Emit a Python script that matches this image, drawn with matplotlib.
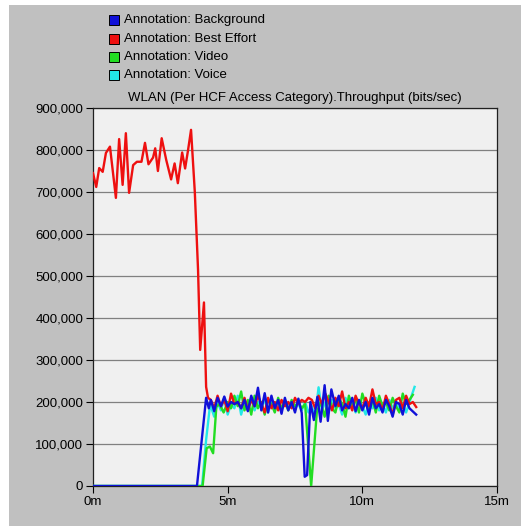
import matplotlib
matplotlib.use("Agg")
import matplotlib.pyplot as plt
from matplotlib.patches import Rectangle
from matplotlib.ticker import FuncFormatter

plt.rcParams['font.family'] = ['Liberation Sans', 'DejaVu Sans']

title = "WLAN (Per HCF Access Category).Throughput (bits/sec)"
series_names = ["Annotation: Background", "Annotation: Best Effort",
                "Annotation: Video", "Annotation: Voice"]
series_colors = ["#1010d8", "#ee1010", "#22dd22", "#22e8e8"]

x_ticks = [0, 5, 10, 15]
x_tick_labels = ["0m", "5m", "10m", "15m"]
y_ticks = [0, 100000, 200000, 300000, 400000, 500000, 600000, 700000, 800000, 900000]

# time in minutes, values in bits/sec (thousands)
red_t = [0.00, 0.12, 0.23, 0.36, 0.48, 0.63, 0.85, 0.97, 1.10, 1.22, 1.34, 1.49, 1.63, 1.80,
         1.93, 2.06, 2.23, 2.31, 2.41, 2.55, 2.72, 2.90, 3.03, 3.15, 3.31, 3.42, 3.53, 3.64,
         3.78, 3.90, 3.98, 4.12, 4.20, 4.27,
         4.375, 4.5, 4.625, 4.75, 4.875, 5.0, 5.125, 5.25, 5.375, 5.5, 5.625, 5.75, 5.875,
         6.0, 6.125, 6.25, 6.375, 6.5, 6.625, 6.75, 6.875, 7.0, 7.125, 7.25, 7.375, 7.5,
         7.625, 7.75, 7.875, 8.0, 8.125, 8.25, 8.375, 8.5, 8.625, 8.75, 8.875, 9.0, 9.125,
         9.25, 9.375, 9.5, 9.625, 9.75, 9.875, 10.0, 10.125, 10.25, 10.375, 10.5, 10.625,
         10.75, 10.875, 11.0, 11.125, 11.25, 11.375, 11.5, 11.625, 11.75, 11.875, 12.0]
red_v = [745, 712, 757, 748, 793, 808, 686, 826, 717, 840, 698, 764, 772, 772,
         817, 766, 782, 804, 750, 828, 776, 730, 768, 721, 794, 756, 800, 848,
         700, 515, 324, 437, 236, 210,
         205, 185, 215, 190, 205, 178, 220, 195, 200, 185, 210, 180, 205,
         190, 215, 195, 175, 210, 185, 200, 180, 205, 190, 200, 185, 210,
         195, 205, 200, 210, 205, 185, 215, 195, 220, 200, 180, 210, 190,
         225, 185, 200, 180, 215, 195, 185, 210, 190, 230, 195, 200,
         180, 215, 195, 170, 205, 210, 185, 215, 195, 200, 188]

blue_t = [0.0, 3.86, 4.2, 4.3, 4.375, 4.5, 4.625, 4.75, 4.875, 5.0, 5.125, 5.25, 5.375, 5.5,
          5.625, 5.75, 5.875, 6.0, 6.125, 6.25, 6.375, 6.5, 6.625, 6.75, 6.875, 7.0, 7.125,
          7.25, 7.375, 7.5, 7.625, 7.75, 7.86, 7.95, 8.07, 8.2, 8.33, 8.45, 8.6, 8.72, 8.85,
          9.0, 9.125, 9.25, 9.375, 9.5, 9.625, 9.75, 9.875, 10.0, 10.125, 10.25, 10.375,
          10.5, 10.625, 10.75, 10.875, 11.0, 11.125, 11.25, 11.375, 11.5, 11.625, 11.75, 12.0]
blue_v = [0, 0, 210, 185, 205, 178, 210, 190, 213, 189, 200, 195, 200, 185, 205,
          178, 215, 190, 234, 180, 221, 175, 215, 185, 205, 172, 210, 180, 200, 175,
          208, 174, 22, 26, 200, 157, 212, 153, 240, 155, 230, 190, 215, 180, 195,
          185, 210, 178, 205, 180, 200, 170, 210, 185, 195, 175, 205, 190, 165, 200,
          195, 170, 205, 185, 170]

green_t = [0.0, 4.07, 4.22, 4.34, 4.46, 4.58, 4.7, 4.85, 5.0, 5.125, 5.25, 5.375, 5.5,
           5.625, 5.75, 5.875, 6.0, 6.125, 6.25, 6.375, 6.5, 6.625, 6.75, 6.875, 7.0,
           7.125, 7.25, 7.375, 7.5, 7.625, 7.75, 7.875, 8.1, 8.31, 8.45, 8.6, 8.75,
           8.875, 9.0, 9.125, 9.25, 9.375, 9.5, 9.625, 9.75, 9.875, 10.0, 10.125, 10.25,
           10.375, 10.5, 10.625, 10.75, 10.875, 11.0, 11.125, 11.25, 11.375, 11.5,
           11.625, 11.75, 11.875]
green_v = [0, 0, 90, 94, 78, 189, 195, 175, 200, 185, 215, 190, 225, 180, 205, 170,
           215, 185, 200, 170, 205, 195, 175, 210, 185, 200, 180, 205, 190, 200, 185,
           195, 0, 175, 200, 165, 215, 185, 175, 210, 195, 165, 215, 190, 205, 175,
           220, 195, 180, 205, 175, 215, 190, 200, 180, 210, 190, 175, 220, 195, 205, 217]

cyan_t = [0.0, 4.05, 4.2, 4.35, 4.5, 4.62, 4.75, 4.875, 5.0, 5.125, 5.25, 5.375, 5.5,
          5.625, 5.75, 5.875, 6.0, 6.125, 6.25, 6.375, 6.5, 6.625, 6.75, 6.875, 7.0,
          7.125, 7.25, 7.375, 7.5, 7.625, 7.75, 7.875, 8.0, 8.125, 8.25, 8.375, 8.5,
          8.625, 8.75, 8.875, 9.0, 9.125, 9.25, 9.375, 9.5, 9.625, 9.75, 9.875, 10.0,
          10.125, 10.25, 10.375, 10.5, 10.625, 10.75, 10.875, 11.0, 11.125, 11.25,
          11.375, 11.5, 11.625, 11.75, 11.94]
cyan_v = [0, 0, 110, 195, 165, 200, 180, 210, 170, 195, 185, 215, 170, 200, 190, 210,
          180, 200, 190, 205, 175, 200, 185, 195, 180, 205, 190, 200, 185, 195, 180,
          200, 175, 190, 165, 235, 180, 200, 175, 205, 185, 195, 170, 210, 185, 200,
          175, 205, 190, 170, 200, 185, 210, 180, 195, 175, 205, 185, 200, 180, 195,
          175, 200, 236]

W = H = 529
fig = plt.figure(figsize=(W / 100, H / 100), dpi=100, facecolor="white")
fig.patches.append(Rectangle((9 / W, 3 / H), 512 / W, 521 / H, transform=fig.transFigure,
                             facecolor="#c0c0c0", edgecolor="none", zorder=-10))

ax = fig.add_axes([93 / W, 43 / H, 404 / W, 378 / H])
ax.set_facecolor("#f0f0f0")

data = [(cyan_t, cyan_v, series_colors[3]),
        (green_t, green_v, series_colors[2]),
        (red_t, red_v, series_colors[1]),
        (blue_t, blue_v, series_colors[0])]
for t, v, c in data:
    ax.plot(t, [val * 1000 for val in v], color=c, lw=1.7, solid_joinstyle="round", zorder=3)

ax.set_xlim(0, 15)
ax.set_ylim(0, 900000)
ax.set_xticks(x_ticks)
ax.set_xticklabels(x_tick_labels)
ax.set_yticks(y_ticks)
ax.yaxis.set_major_formatter(FuncFormatter(lambda v, p: f"{int(v):,}"))
ax.grid(axis="y", color="#808080", lw=0.9, zorder=1)
ax.tick_params(axis="both", labelsize=9.5, length=5, width=0.8, colors="black", pad=2)
for s in ax.spines.values():
    s.set_color("#202020")
    s.set_linewidth(0.9)

fig.text(295 / W, 1 - 98 / H, title, ha="center", va="center", fontsize=9.5)

legend_y = [20, 38.5, 57, 75]
for name, color, yy in zip(series_names, series_colors, legend_y):
    fig.patches.append(Rectangle((109 / W, 1 - (yy + 5) / H), 10 / W, 10 / H,
                                 transform=fig.transFigure, facecolor=color,
                                 edgecolor="black", lw=0.7))
    fig.text(124 / W, 1 - yy / H, name, ha="left", va="center", fontsize=9.5)

fig.savefig("out.png", dpi=100, facecolor="white")
